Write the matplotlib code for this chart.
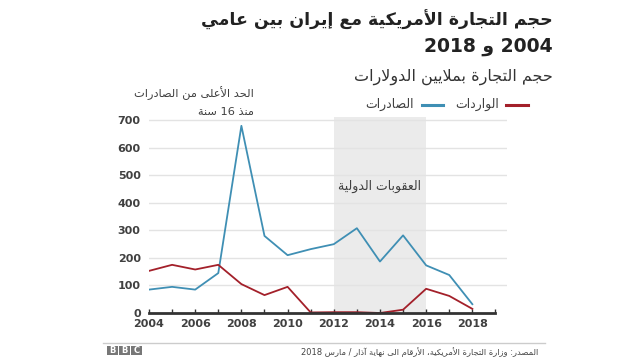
import re
import matplotlib
matplotlib.use("Agg")
import matplotlib.pyplot as plt
from matplotlib.patches import Rectangle
from matplotlib.lines import Line2D

years = [2004, 2005, 2006, 2007, 2008, 2009, 2010, 2011, 2012, 2013, 2014, 2015, 2016, 2017, 2018]
exports = [85, 95, 85, 145, 680, 280, 210, 232, 250, 308, 187, 282, 173, 138, 32]
imports = [153, 175, 158, 175, 105, 65, 95, 2, 3, 3, 0, 12, 88, 62, 15]
sanctions = (2012, 2016)
yticks = [0, 100, 200, 300, 400, 500, 600, 700]
xticks = [2004, 2006, 2008, 2010, 2012, 2014, 2016, 2018]

title_1 = "حجم التجارة الأمريكية مع إيران بين عامي"
title_2 = "2004 و 2018"
subtitle = "حجم التجارة بملايين الدولارات"
label_imports = "الواردات"
label_exports = "الصادرات"
note_1 = "الحد الأعلى من الصادرات"
note_2 = "منذ 16 سنة"
note_sanctions = "العقوبات الدولية"
source = "المصدر: وزارة التجارة الأمريكية، الأرقام الى نهاية آذار / مارس 2018"

BLUE = "#3f8fb4"
RED = "#a3202a"
GREY = "#404040"

# --- minimal arabic shaping (matplotlib has no complex text layout) ---
# code -> (isolated form in Presentation Forms-B, joining type: 1 none, 2 right, 4 dual)
FORMS = {
    0x0621: (0xFE80, 1), 0x0622: (0xFE81, 2), 0x0623: (0xFE83, 2), 0x0624: (0xFE85, 2),
    0x0625: (0xFE87, 2), 0x0626: (0xFE89, 4), 0x0627: (0xFE8D, 2), 0x0628: (0xFE8F, 4),
    0x0629: (0xFE93, 2), 0x062A: (0xFE95, 4), 0x062B: (0xFE99, 4), 0x062C: (0xFE9D, 4),
    0x062D: (0xFEA1, 4), 0x062E: (0xFEA5, 4), 0x062F: (0xFEA9, 2), 0x0630: (0xFEAB, 2),
    0x0631: (0xFEAD, 2), 0x0632: (0xFEAF, 2), 0x0633: (0xFEB1, 4), 0x0634: (0xFEB5, 4),
    0x0635: (0xFEB9, 4), 0x0636: (0xFEBD, 4), 0x0637: (0xFEC1, 4), 0x0638: (0xFEC5, 4),
    0x0639: (0xFEC9, 4), 0x063A: (0xFECD, 4), 0x0641: (0xFED1, 4), 0x0642: (0xFED5, 4),
    0x0643: (0xFED9, 4), 0x0644: (0xFEDD, 4), 0x0645: (0xFEE1, 4), 0x0646: (0xFEE5, 4),
    0x0647: (0xFEE9, 4), 0x0648: (0xFEED, 2), 0x0649: (0xFEEF, 2), 0x064A: (0xFEF1, 4),
}
LAM_ALEF = {0x0622: 0xFEF5, 0x0623: 0xFEF7, 0x0625: 0xFEF9, 0x0627: 0xFEFB}


def shape(text):
    tokens = []  # (char, base, type)
    i = 0
    while i < len(text):
        c = ord(text[i])
        if c == 0x0644 and i + 1 < len(text) and ord(text[i + 1]) in LAM_ALEF:
            tokens.append((None, LAM_ALEF[ord(text[i + 1])], 2))
            i += 2
            continue
        if c in FORMS:
            tokens.append((None, FORMS[c][0], FORMS[c][1]))
        else:
            tokens.append((text[i], None, 0))
        i += 1
    out = []
    for k, (ch, base, jt) in enumerate(tokens):
        if base is None:
            out.append(ch)
            continue
        prev = k > 0 and tokens[k - 1][2] == 4
        nxt = jt == 4 and k + 1 < len(tokens) and tokens[k + 1][2] >= 2
        if jt == 1:
            out.append(chr(base))
        elif jt == 2:
            out.append(chr(base + 1 if prev else base))
        else:
            if prev and nxt:
                off = 3
            elif nxt:
                off = 2
            elif prev:
                off = 1
            else:
                off = 0
            out.append(chr(base + off))
    return "".join(out)


def ar(text):
    # shape, then reverse for left-to-right drawing, keeping digit runs intact
    s = shape(text)
    parts = re.findall(r"[0-9]+|[^0-9]", s)
    return "".join(reversed(parts))


plt.rcParams["font.family"] = ["DejaVu Sans"]

fig = plt.figure(figsize=(6.4, 3.6), dpi=100)
ax = fig.add_axes([149 / 640, 1 - 313 / 360, 358 / 640, 196 / 360])

ax.axvspan(sanctions[0], sanctions[1], color="#ebebeb", zorder=0, lw=0)
for v in yticks[1:]:
    ax.axhline(v, color="#e3e3e3", lw=1, zorder=1)

ax.plot(years, exports, color=BLUE, lw=1.3, zorder=3)
ax.plot(years, imports, color=RED, lw=1.3, zorder=3)

ax.set_xlim(2004, 2019.5)
ax.set_ylim(0, 712)
for s in ["top", "right", "left"]:
    ax.spines[s].set_visible(False)
ax.spines["bottom"].set_bounds(2004, 2019)
ax.spines["bottom"].set_color("#333333")
ax.spines["bottom"].set_linewidth(2)
ax.spines["bottom"].set_zorder(4)

ax.set_yticks(yticks)
ax.set_xticks(xticks)
ax.set_xticks(range(2004, 2020), minor=True)
ax.tick_params(axis="y", length=0, pad=6, labelsize=8, labelcolor=GREY)
ax.tick_params(axis="x", which="both", direction="in", length=3, width=1,
               color="#333333", pad=4, labelsize=8, labelcolor=GREY)
for lbl in ax.get_xticklabels() + ax.get_yticklabels():
    lbl.set_fontweight("bold")

ax.text((sanctions[0] + sanctions[1]) / 2, 461, ar(note_sanctions), ha="center", va="center",
        fontsize=9, color=GREY)

# titles
fig.text(553 / 640, 1 - 20 / 360, ar(title_1), ha="right", va="center", fontsize=12.5,
         fontweight="bold", color="#222222")
fig.text(553 / 640, 1 - 47 / 360, ar(title_2), ha="right", va="center", fontsize=13.5,
         fontweight="bold", color="#222222")
fig.text(553 / 640, 1 - 77 / 360, ar(subtitle), ha="right", va="center", fontsize=11.5,
         color="#333333")

# legend
fig.add_artist(Line2D([506 / 640, 528 / 640], [1 - 105 / 360] * 2, color=RED, lw=2.2))
fig.text(499 / 640, 1 - 104 / 360, ar(label_imports), ha="right", va="center", fontsize=9, color=GREY)
fig.add_artist(Line2D([422 / 640, 443 / 640], [1 - 105 / 360] * 2, color=BLUE, lw=2.2))
fig.text(414 / 640, 1 - 104 / 360, ar(label_exports), ha="right", va="center", fontsize=9, color=GREY)

# annotation
fig.text(254 / 640, 1 - 93 / 360, ar(note_1), ha="right", va="center", fontsize=8.2, color=GREY)
fig.text(254 / 640, 1 - 112 / 360, ar(note_2), ha="right", va="center", fontsize=8.2, color=GREY)

# footer
fig.add_artist(Line2D([103 / 640, 545 / 640], [1 - 343 / 360] * 2, color="#cccccc", lw=1))
for k, letter in enumerate("BBC"):
    x0 = 107 + k * 12
    fig.add_artist(Rectangle((x0 / 640, 1 - 355 / 360), 11 / 640, 9 / 360,
                             transform=fig.transFigure, color="#777777", lw=0))
    fig.text((x0 + 5.5) / 640, 1 - 350.5 / 360, letter, ha="center", va="center",
             fontsize=6, fontweight="bold", color="white")
fig.text(538 / 640, 1 - 352 / 360, ar(source), ha="right", va="center", fontsize=6, color="#444444")

fig.savefig("out.png", dpi=100, facecolor="white")
